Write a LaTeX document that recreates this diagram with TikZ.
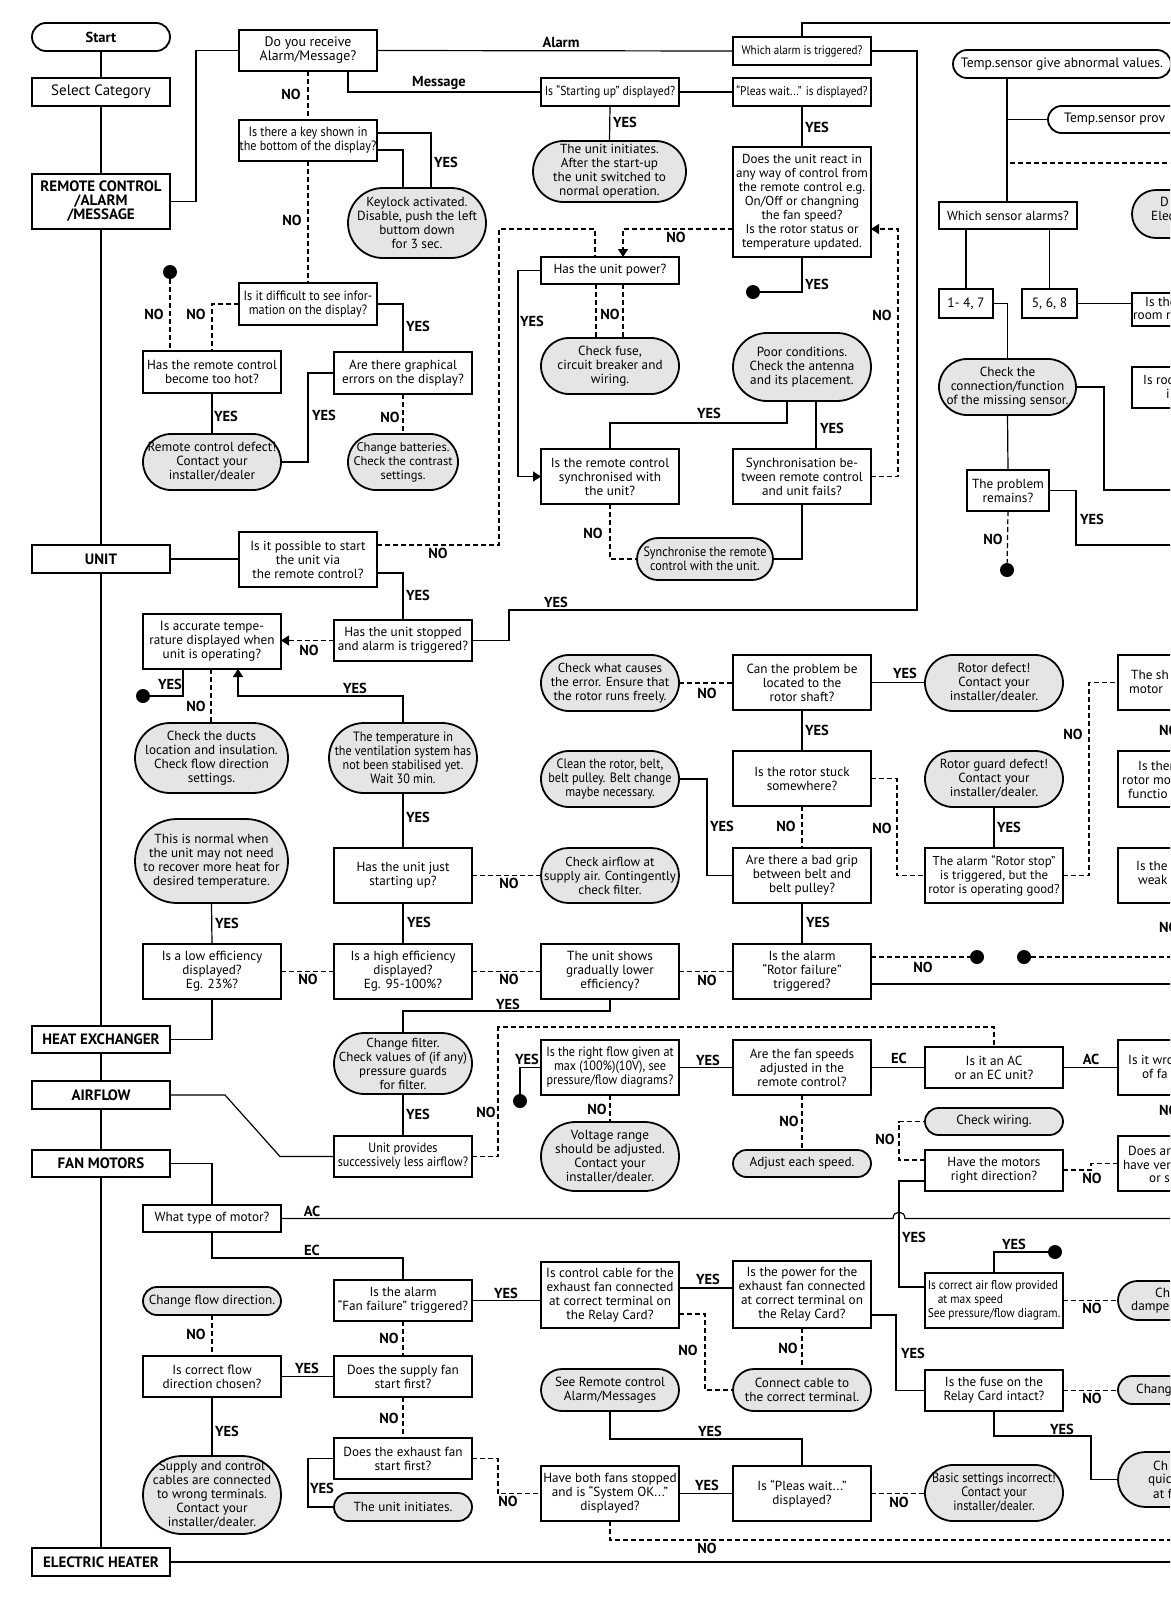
\documentclass[tikz,border=0pt]{standalone}
\usepackage{fontspec}
\setmainfont{PT Sans}
\newfontfamily\cf{PT Sans}[FakeStretch=0.9]
\usetikzlibrary{arrows.meta,calc}
\newcommand\fz[1]{\fontsize{#1}{14}\selectfont}
\newcommand\mkn[7]{\node[#1, minimum width=#5pt, minimum height=#6pt] (#2) at ({#3+#5/2},{#4+#6/2}) {#7};}
\newcommand\mkt[7]{\node[#1, rounded corners={#6*0.5pt-0.01pt}, minimum width=#5pt, minimum height=#6pt] (#2) at ({#3+#5/2},{#4+#6/2}) {#7};}
\newcommand\mkl[4]{\node[lab] (#1) at (#2,#3) {#4};}
\newcommand\mkf[4]{\node[ptx] (#1) at (#2,#3) {#4};}
\begin{document}
\begin{tikzpicture}[x=1pt,y=-1pt,
 box/.style={draw, line width=1.8pt, inner sep=0pt, outer sep=0pt, align=center, font=\fz{13.2}},
 cat/.style={box, font=\bfseries\fz{15}},
 cbox/.style={box, font=\cf\fz{13.5}},
 term/.style={rectangle, draw, line width=1.8pt, fill=black!10, inner sep=0pt, outer sep=0pt, align=center, font=\fz{13.2}},
 wterm/.style={term, fill=white},
 cterm/.style={term, font=\cf\fz{13.5}},
 lab/.style={font=\bfseries\fz{14.5}, inner sep=0pt},
 ptx/.style={font=\fz{13.2}, inner sep=0pt, anchor=west},
 con/.style={line width=1.2pt},
 dcon/.style={line width=1.2pt, dash pattern=on 5pt off 3pt},
 dotn/.style={circle, fill=black, inner sep=0pt, minimum size=14pt},
 arr/.style={-{Triangle[width=10pt,length=8pt]}},
]
\useasboundingbox (0,0) rectangle (1170,1609);
\fill[white] (0,0) rectangle (1170,1609);
\clip (0,0) rectangle (1170,1609);

% ---------- categories
\mkt{wterm,font=\bfseries\fz{14.5}}{start}{32}{23}{138}{28}{Start}
\mkn{box,font=\fz{15}}{selcat}{32}{78}{138}{28}{Select Category}
\mkn{cat}{rcam}{32}{174}{138}{55}{REMOTE CONTROL\\/ALARM\\/MESSAGE}
\mkn{cat}{unit}{32}{545}{138}{28}{UNIT}
\mkn{cat}{heatx}{32}{1026}{138}{27}{HEAT EXCHANGER}
\mkn{cat}{airflow}{32}{1081}{138}{28}{AIRFLOW}
\mkn{cat}{fanm}{32}{1150}{138}{27}{FAN MOTORS}
\mkn{cat}{elheat}{32}{1548}{138}{28}{ELECTRIC HEATER}

% ---------- remote control section
\mkn{box,font=\fz{13.8}}{recv}{239}{30}{138}{41}{Do you receive\\Alarm/Message?}
\mkn{cbox}{key}{239}{120}{138}{41}{Is there a key shown in\\the bottom of the display?}
\mkt{term}{keylock}{348}{188}{138}{70}{Keylock activated.\\Disable, push the left\\buttom down\\for 3 sec.}
\mkn{cbox}{diff}{239}{283}{138}{42}{Is it difficult to see infor-\\mation on the display?}
\mkn{box}{hot}{143}{351}{138}{42}{Has the remote control\\become too hot?}
\mkn{box}{graph}{334}{352}{138}{42}{Are there graphical\\errors on the display?}
\mkt{term}{rcdef}{143}{434}{138}{56}{Remote control defect!\\Contact your\\installer/dealer}
\mkt{term,font=\fz{12.5}}{batt}{348}{434}{110}{56}{Change batteries.\\Check the contrast\\settings.}
\node[dotn] (dot1) at (170,272) {};
\mkn{box,font=\cf\fz{13}}{startup}{541}{78}{138}{28}{Is “Starting up” displayed?}
\mkt{term}{init1}{533}{141}{153}{61}{The unit initiates.\\After the start-up\\the unit switched to\\normal operation.}
\mkn{box,font=\cf\fz{12.3}}{whichal}{733}{37}{138}{28}{Which alarm is triggered?}
\mkn{box,font=\cf\fz{12.6}}{pleas}{733}{78}{138}{28}{“Pleas wait...” is displayed?}
\mkn{box,font=\fz{13}}{react}{733}{147}{138}{110}{Does the unit react in\\any way of control from\\the remote control e.g.\\On/Off or changning\\the fan speed?\\Is the rotor status or\\temperature updated.}
\node[dotn] (dot2) at (753,292) {};
\mkn{box}{power}{541}{257}{138}{27}{Has the unit power?}
\mkt{term}{fuse}{541}{338}{138}{56}{Check fuse,\\circuit breaker and\\wiring.}
\mkt{term}{poor}{733}{333}{138}{68}{Poor conditions.\\Check the antenna\\and its placement.}
\mkn{box}{sync}{541}{449}{138}{55}{Is the remote control\\synchronised with\\the unit?}
\mkn{box}{syncfail}{733}{449}{138}{55}{Synchronisation be-\\tween remote control\\and unit fails?}
\mkt{cterm}{syncit}{637}{538}{136}{42}{Synchronise the remote\\control with the unit.}

% ---------- unit section
\mkn{box}{possible}{239}{532}{138}{55}{Is it possible to start\\the unit via\\the remote control?}
\mkn{box}{stopped}{334}{620}{138}{41}{Has the unit stopped\\and alarm is triggered?}
\mkn{box}{accurate}{143}{614}{138}{55}{Is accurate tempe-\\rature displayed when\\unit is operating?}
\node[dotn] (dot3) at (143,696) {};
\mkt{term}{ducts}{135}{723}{153}{70}{Check the ducts\\location and insulation.\\Check flow direction\\settings.}
\mkt{cterm}{tempstab}{329}{723}{148}{70}{The temperature in\\the ventilation system has\\not been stabilised yet.\\Wait 30 min.}
\mkt{term}{normal}{135}{819}{153}{84}{This is normal when\\the unit may not need\\to recover more heat for\\desired temperature.}
\mkn{box}{juststart}{334}{848}{138}{55}{Has the unit just\\starting up?}
\mkt{term,font=\fz{13}}{airchk}{541}{848}{138}{55}{Check airflow at\\supply air. Contingently\\check filter.}
\mkn{box}{loweff}{143}{944}{138}{55}{Is a low efficiency\\displayed?\\Eg. 23\%?}
\mkn{box}{higheff}{334}{944}{138}{55}{Is a high efficiency\\displayed?\\Eg. 95-100\%?}
\mkn{box}{gradual}{541}{944}{138}{55}{The unit shows\\gradually lower\\efficiency?}
\mkt{term,font=\fz{13}}{chfilter}{334}{1033}{138}{61}{Change filter.\\Check values of (if any)\\pressure guards\\for filter.}
\mkn{cbox}{lessair}{334}{1136}{138}{41}{Unit provides\\successively less airflow?}
\mkn{cbox}{rightflow}{541}{1040}{138}{55}{Is the right flow given at\\max (100\%)(10V), see\\pressure/flow diagrams?}
\node[dotn] (dot4) at (520,1101) {};
\mkt{term}{voltage}{541}{1122}{138}{69}{Voltage range\\should be adjusted.\\Contact your\\installer/dealer.}
\mkn{box}{fanspeeds}{733}{1040}{138}{55}{Are the fan speeds\\adjusted in the\\remote control?}
\mkt{term}{adjust}{733}{1150}{138}{27}{Adjust each speed.}
\mkn{box}{acec}{925}{1047}{138}{41}{Is it an AC\\or an EC unit?}
\mkt{term}{chkwire}{925}{1108}{138}{27}{Check wiring.}
\mkn{box}{motordir}{925}{1150}{138}{41}{Have the motors\\right direction?}

% ---------- rotor section
\mkt{term,font=\fz{13}}{causes}{541}{655}{138}{56}{Check what causes\\the error. Ensure that\\the rotor runs freely.}
\mkn{box}{shaft}{733}{655}{138}{55}{Can the problem be\\located to the\\rotor shaft?}
\mkt{term}{rotdef}{925}{655}{138}{56}{Rotor defect!\\Contact your\\installer/dealer.}
\mkt{cterm}{clean}{541}{751}{138}{56}{Clean the rotor, belt,\\belt pulley. Belt change\\maybe necessary.}
\mkn{box}{stuck}{733}{751}{138}{55}{Is the rotor stuck\\somewhere?}
\mkt{term}{guard}{925}{751}{138}{56}{Rotor guard defect!\\Contact your\\installer/dealer.}
\mkn{box}{grip}{733}{848}{138}{55}{Are there a bad grip\\between belt and\\belt pulley?}
\mkn{box,font=\fz{12.8}}{rotstop}{925}{848}{138}{55}{The alarm “Rotor stop”\\is triggered, but the\\rotor is operating good?}
\mkn{box}{rotfail}{733}{944}{138}{55}{Is the alarm\\“Rotor failure”\\triggered?}
\node[dotn] (dot5) at (977,957) {};
\node[dotn] (dot6) at (1024,957) {};

% ---------- sensor section
\mkt{wterm,font=\fz{13.6}}{tsab}{953}{50}{218}{28}{Temp.sensor give abnormal values.}
\mkt{wterm}{tsprov}{1048}{106}{250}{27}{}
\mkt{term}{dstad}{1132}{190}{120}{48}{}
\mkn{box}{whichsens}{939}{202}{138}{27}{Which sensor alarms?}
\mkn{box,font=\fz{13.5}}{s147}{939}{289}{54}{29}{1- 4, 7}
\mkn{box,font=\fz{13.5}}{s568}{1022}{289}{55}{29}{5, 6, 8}
\mkn{box}{roomre}{1132}{293}{120}{33}{}
\mkn{box}{isroo}{1132}{367}{120}{41}{}
\mkt{term}{conn}{939}{359}{137}{56}{Check the\\connection/function\\of the missing sensor.}
\mkn{box}{remains}{967}{470}{82}{41}{The problem\\remains?}
\node[dotn] (dot7) at (1007,570) {};

% ---------- partial column at right edge
\mkn{box}{shmotor}{1118}{655}{150}{55}{}
\mkn{box}{isther}{1118}{751}{150}{56}{}
\mkn{box}{weak}{1118}{848}{150}{55}{}
\mkn{box}{wro}{1118}{1040}{150}{55}{}
\mkn{box}{doesar}{1118}{1136}{150}{55}{}
\mkt{term}{chdamp}{1118}{1281}{150}{39}{}
\mkt{term}{chang}{1118}{1376}{150}{28}{}
\mkt{term}{chquic}{1118}{1452}{150}{55}{}

% ---------- motor section
\mkn{box}{mtype}{143}{1205}{138}{27}{What type of motor?}
\mkt{term}{chflow}{143}{1287}{138}{28}{Change flow direction.}
\mkn{box}{correctdir}{143}{1356}{138}{41}{Is correct flow\\direction chosen?}
\mkt{term}{wrongterm}{143}{1456}{138}{78}{Supply and control\\cables are connected\\to wrong terminals.\\Contact your\\installer/dealer.}
\mkn{box}{fanfail}{334}{1280}{138}{41}{Is the alarm\\“Fan failure” triggered?}
\mkn{box}{supfirst}{334}{1356}{138}{41}{Does the supply fan\\start first?}
\mkn{box}{exhfirst}{334}{1438}{138}{41}{Does the exhaust fan\\start first?}
\mkt{term}{init2}{334}{1493}{138}{28}{The unit initiates.}
\mkn{box}{ctrlcable}{541}{1262}{138}{66}{Is control cable for the\\exhaust fan connected\\at correct terminal on\\the Relay Card?}
\mkn{box}{powerexh}{733}{1261}{138}{67}{Is the power for the\\exhaust fan connected\\at correct terminal on\\the Relay Card?}
\mkt{term}{seerc}{541}{1369}{138}{42}{See Remote control\\Alarm/Messages}
\mkt{term}{connect}{733}{1369}{138}{42}{Connect cable to\\the correct terminal.}
\mkn{box,font=\cf\fz{12.7},align=left}{airmax}{925}{1273}{138}{55}{Is correct air flow provided\\\hspace*{10pt}at max speed\\See pressure/flow diagram.}
\node[dotn] (dot8) at (1055,1252) {};
\mkn{box}{fuseint}{925}{1370}{138}{41}{Is the fuse on the\\Relay Card intact?}
\mkn{box}{bothstop}{541}{1466}{138}{55}{Have both fans stopped\\and is “System OK...”\\displayed?}
\mkn{box}{pleas2}{733}{1466}{138}{55}{Is “Pleas wait...”\\displayed?}
\mkt{cterm}{basic}{925}{1465}{138}{56}{Basic settings incorrect!\\Contact your\\installer/dealer.}

% ---------- partial texts at the right edge
\mkf{f1}{1064}{119.5}{\fz{13.6}Temp.sensor prov}
\mkf{f2}{1160}{202}{D}
\mkf{f3}{1151}{216}{Elec}
\mkf{f4}{1145}{302}{Is the}
\mkf{f5}{1133}{316}{room re}
\mkf{f6}{1143}{380}{Is roo}
\mkf{f7}{1166}{394}{i}
\mkf{f8}{1131}{675}{The sh}
\mkf{f9}{1129}{689}{motor}
\mkf{f10}{1138}{766}{Is ther}
\mkf{f11}{1122}{780}{rotor mo}
\mkf{f12}{1128}{794}{functio}
\mkf{f13}{1136}{866}{Is the}
\mkf{f14}{1138}{880}{weak}
\mkf{f15}{1128}{1060}{Is it wro}
\mkf{f16}{1142}{1074}{of fa}
\mkf{f17}{1128}{1151}{Does ar}
\mkf{f18}{1123}{1165}{have ver}
\mkf{f19}{1149}{1179}{or s}
\mkf{f20}{1155}{1293}{Ch}
\mkf{f21}{1131}{1307}{dampe}
\mkf{f22}{1136}{1390}{Chang}
\mkf{f23}{1153}{1466}{Ch}
\mkf{f24}{1148}{1480}{quic}
\mkf{f25}{1153}{1494}{at f}
\node[lab,anchor=west] (nx1) at (1159,730) {NO};
\node[lab,anchor=west] (nx2) at (1159,927) {NO};
\node[lab,anchor=west] (nx3) at (1159,1110) {NO};

% ---------- free ends
\coordinate (topR) at (1180,23);
\coordinate (dsL) at (1010,163);
\coordinate (dsR) at (1180,163);
\coordinate (cR1) at (1180,490);
\coordinate (cR2) at (1180,545);
\coordinate (rfR1) at (1180,957);
\coordinate (rfR2) at (1180,984);
\coordinate (acR) at (1180,1218.5);
\coordinate (botR) at (1180,1540);
\coordinate (ehR) at (1180,1562);

% ---------- connectors: categories
\draw[con] (start.south) -- (selcat.north);
\draw[con] (selcat.south) -- (rcam.north);
\draw[con] (rcam.south) -- (unit.north);
\draw[con] (unit.south) -- (heatx.north);
\draw[con] (heatx.south) -- (airflow.north);
\draw[con] (airflow.south) -- (fanm.north);
\draw[con] (fanm.south) -- (elheat.north);
\draw[con] (rcam.east) -- ++(26,0) |- (recv.west);
\draw[con] (elheat.east) -- (ehR);

% ---------- connectors: remote control
\draw[con] (recv.east) -- (whichal.west);
\draw[con] (recv.south -| 348,0) |- (startup.west);
\draw[con] (startup.east) -- (pleas.west);
\draw[con] (startup.south) -- (init1.north);
\draw[con] (whichal.north) |- (topR);
\draw[con] (whichal.east) -| (917,610) -| (509,640.5) -- (stopped.east);
\draw[con] (pleas.south) -- (react.north);
\draw[con] (react.south) |- (dot2);
\draw[dcon,arr] (react.west |- 0,229) -| (623,0 |- power.north);
\draw[dcon] (possible.east |- 0,545) -| (499,229) -| (595,0 |- power.north);
\draw[con,arr] (power.west) -| (518,476.5) -- (sync.west);
\draw[dcon] (596,0 |- power.south) -- (596,0 |- fuse.north);
\draw[dcon] (623,0 |- power.south) -- (623,0 |- fuse.north);
\draw[con] (sync.north) |- (787,423) -- (787,0 |- poor.south);
\draw[con] (816,0 |- poor.south) -- (816,0 |- syncfail.north);
\draw[con] (syncfail.south) |- (syncit.east);
\draw[dcon] (sync.south) |- (syncit.west);
\draw[dcon,arr] (syncfail.east) -| (898,229) -- (react.east |- 0,229);
\draw[dcon] (recv.south) -- (key.north);
\draw[con] (key.east |- 0,133) -| (431,0 |- keylock.north);
\draw[con] (key.east |- 0,150) -| (403,0 |- keylock.north);
\draw[dcon] (key.south) -- (diff.north);
\draw[dcon] (diff.west) -| (hot.north);
\draw[dcon] (dot1) -- (170,0 |- hot.north);
\draw[con] (diff.east) -| (graph.north);
\draw[con] (hot.south) -- (rcdef.north);
\draw[con] (graph.west) -| (308,462) -- (rcdef.east);
\draw[dcon] (graph.south) -- (batt.north);

% ---------- connectors: unit
\draw[con] (unit.east) -- (possible.west |- unit.east);
\draw[con] (possible.east |- 0,573) -| (stopped.north);
\draw[dcon,arr] (stopped.west) -- (accurate.east |- stopped.west);
\draw[con] (183,0 |- accurate.south) |- (dot3);
\draw[dcon] (211,0 |- accurate.south) -- (211,0 |- ducts.north);
\draw[con,arr] (tempstab.north) |- (238,696) -- (238,0 |- accurate.south);
\draw[con] (tempstab.south) -- (juststart.north);
\draw[dcon] (juststart.east) -- (airchk.west);
\draw[con] (juststart.south) -- (higheff.north);
\draw[dcon] (higheff.west) -- (loweff.east);
\draw[dcon] (higheff.east) -- (gradual.west);
\draw[con] (normal.south) -- (loweff.north);
\draw[con] (loweff.south) |- (heatx.east);
\draw[con] (gradual.south) |- (403,1011) -- (chfilter.north);
\draw[dcon] (gradual.east) -- (rotfail.west);
\draw[con] (chfilter.south) -- (lessair.north);
\draw[con] (airflow.east) -- (225,1095) -- (280,1156.5) -- (lessair.west);
\draw[dcon] (lessair.east) -| (498,1027) -| (acec.north);
\draw[con] (rightflow.west) -| (dot4);
\draw[dcon] (rightflow.south) -- (voltage.north);
\draw[con] (rightflow.east) -- (fanspeeds.west);
\draw[dcon] (fanspeeds.south) -- (adjust.north);
\draw[con] (fanspeeds.east) -- (acec.west |- fanspeeds.east);
\draw[con] (acec.east) -- (wro.west |- acec.east);
\draw[dcon] (motordir.west |- 0,1160) -| (899,1121.5) -- (chkwire.west);
\draw[dcon] (motordir.east |- 0,1170) -| (1091,1163.5) -- (doesar.west);
\draw[con] (motordir.west |- 0,1181) -| (899,1287) -- (airmax.west |- 0,1287);

% ---------- connectors: rotor
\draw[dcon] (causes.east) -- (shaft.west |- causes.east);
\draw[con] (shaft.east) -- (rotdef.west |- shaft.east);
\draw[con] (shaft.south) -- (stuck.north);
\draw[con] (clean.east) -| (707,875.5) -- (grip.west);
\draw[dcon] (stuck.south) -- (grip.north);
\draw[dcon] (stuck.east) -| (897,875.5) -- (rotstop.west);
\draw[con] (guard.south) -- (rotstop.north);
\draw[dcon] (rotstop.east) -| (1089,682.5) -- (shmotor.west);
\draw[con] (grip.south) -- (rotfail.north);
\draw[dcon] (rotfail.east |- 0,957) -- (dot5);
\draw[dcon] (dot6) -- (rfR1);
\draw[con] (rotfail.east |- 0,984) -- (rfR2);

% ---------- connectors: sensor
\draw[con] (1007,0 |- tsab.south) -- (1007,0 |- whichsens.north);
\draw[con] (1007,119.5) -- (tsprov.west);
\draw[dcon] (dsL) -- (dsR);
\draw[con] (s147.north |- whichsens.south) -- (s147.north);
\draw[con] (s568.north |- whichsens.south) -- (s568.north);
\draw[con] (s147.east) -| (conn.north);
\draw[con] (s568.east) -- (roomre.west |- s568.east);
\draw[con] (conn.east) -| (1104,490) -- (cR1);
\draw[con] (conn.south) -- (remains.north);
\draw[con] (remains.east) -| (1076,545) -- (cR2);
\draw[dcon] (remains.south) -- (dot7);

% ---------- connectors: motors
\draw[con] (fanm.east) -| (mtype.north);
\draw[con] (mtype.east) -- (893,1218.5) .. controls (893,1210) and (905,1210) .. (905,1218.5) -- (acR);
\draw[con] (mtype.south) |- (403,1258) -- (fanfail.north);
\draw[dcon] (chflow.south) -- (correctdir.north);
\draw[con] (correctdir.east) -- (supfirst.west);
\draw[con] (correctdir.south) -- (wrongterm.north);
\draw[dcon] (fanfail.south) -- (supfirst.north);
\draw[dcon] (supfirst.south) -- (exhfirst.north);
\draw[con] (exhfirst.west) -| (308,1507) -- (init2.west);
\draw[dcon] (exhfirst.east) -| (498,1493.5) -- (bothstop.west);
\draw[con] (fanfail.east) -- (ctrlcable.west |- fanfail.east);
\draw[con] (ctrlcable.east |- 0,1288) -- (powerexh.west |- 0,1288);
\draw[dcon] (ctrlcable.east |- 0,1314) -| (705,1390) -- (connect.west);
\draw[dcon] (powerexh.south) -- (connect.north);
\draw[con] (powerexh.east |- 0,1315) -| (896,1390.5) -- (fuseint.west);
\draw[con] (airmax.north) |- (dot8);
\draw[dcon] (airmax.east) -- (chdamp.west |- airmax.east);
\draw[dcon] (fuseint.east) -- (chang.west |- fuseint.east);
\draw[con] (fuseint.south) |- (1091,1436) |- (chquic.west);
\draw[con] (seerc.south) |- (802,1439) -- (pleas2.north);
\draw[con] (bothstop.east) -- (pleas2.west);
\draw[dcon] (pleas2.east) -- (basic.west |- pleas2.east);
\draw[dcon] (bothstop.south) |- (botR);

% ---------- labels
\mkl{la1}{561}{42}{Alarm}
\mkl{la2}{439}{83}{Message}
\mkl{la3}{291}{94}{NO}
\mkl{la4}{625}{122}{YES}
\mkl{la5}{817}{127}{YES}
\mkl{la6}{446}{162}{YES}
\mkl{la7}{292}{220}{NO}
\mkl{la8}{676}{237}{NO}
\mkl{la9}{817}{284}{YES}
\mkl{la10}{154}{314}{NO}
\mkl{la11}{196}{314}{NO}
\mkl{la12}{418}{326}{YES}
\mkl{la13}{532}{321}{YES}
\mkl{la14}{610}{314}{NO}
\mkl{la15}{882}{315}{NO}
\mkl{la16}{709}{413}{YES}
\mkl{la17}{226}{416}{YES}
\mkl{la18}{324}{415}{YES}
\mkl{la19}{390}{417}{NO}
\mkl{la20}{832}{428}{YES}
\mkl{la21}{593}{533}{NO}
\mkl{la22}{438}{553}{NO}
\mkl{la23}{418}{595}{YES}
\mkl{la24}{556}{602}{YES}
\mkl{la25}{309}{650}{NO}
\mkl{la26}{170}{684}{YES}
\mkl{la27}{196}{706}{NO}
\mkl{la28}{355}{688}{YES}
\mkl{la29}{707}{693}{NO}
\mkl{la30}{905}{673}{YES}
\mkl{la31}{817}{730}{YES}
\mkl{la32}{1073}{734}{NO}
\mkl{la33}{418}{817}{YES}
\mkl{la34}{722}{826}{YES}
\mkl{la35}{786}{826}{NO}
\mkl{la36}{882}{828}{NO}
\mkl{la37}{1009}{827}{YES}
\mkl{la38}{509}{883}{NO}
\mkl{la39}{419}{922}{YES}
\mkl{la40}{227}{923}{YES}
\mkl{la41}{818}{922}{YES}
\mkl{la42}{308}{979}{NO}
\mkl{la43}{509}{979}{NO}
\mkl{la44}{707}{980}{NO}
\mkl{la45}{923}{967}{NO}
\mkl{la46}{508}{1004}{YES}
\mkl{la47}{527}{1059}{YES}
\mkl{la48}{708}{1060}{YES}
\mkl{la49}{899}{1058}{EC}
\mkl{la50}{1091}{1059}{AC}
\mkl{la51}{486}{1112}{NO}
\mkl{la52}{418}{1114}{YES}
\mkl{la53}{597}{1109}{NO}
\mkl{la54}{789}{1121}{NO}
\mkl{la55}{885}{1139}{NO}
\mkl{la56}{1092}{1178}{NO}
\mkl{la57}{312}{1211}{AC}
\mkl{la58}{312}{1250}{EC}
\mkl{la59}{914}{1237}{YES}
\mkl{la60}{1014}{1244}{YES}
\mkl{la61}{506}{1293}{YES}
\mkl{la62}{708}{1279}{YES}
\mkl{la63}{1092}{1308}{NO}
\mkl{la64}{196}{1334}{NO}
\mkl{la65}{389}{1338}{NO}
\mkl{la66}{688}{1350}{NO}
\mkl{la67}{788}{1348}{NO}
\mkl{la68}{913}{1353}{YES}
\mkl{la69}{307}{1368}{YES}
\mkl{la70}{1092}{1398}{NO}
\mkl{la71}{389}{1418}{NO}
\mkl{la72}{1062}{1429}{YES}
\mkl{la73}{710}{1431}{YES}
\mkl{la74}{227}{1431}{YES}
\mkl{la75}{707}{1485}{YES}
\mkl{la76}{322}{1488}{YES}
\mkl{la77}{508}{1501}{NO}
\mkl{la78}{899}{1502}{NO}
\mkl{la79}{707}{1548}{NO}
\mkl{la80}{1092}{519}{YES}
\mkl{la81}{993}{539}{NO}
\end{tikzpicture}
\end{document}
